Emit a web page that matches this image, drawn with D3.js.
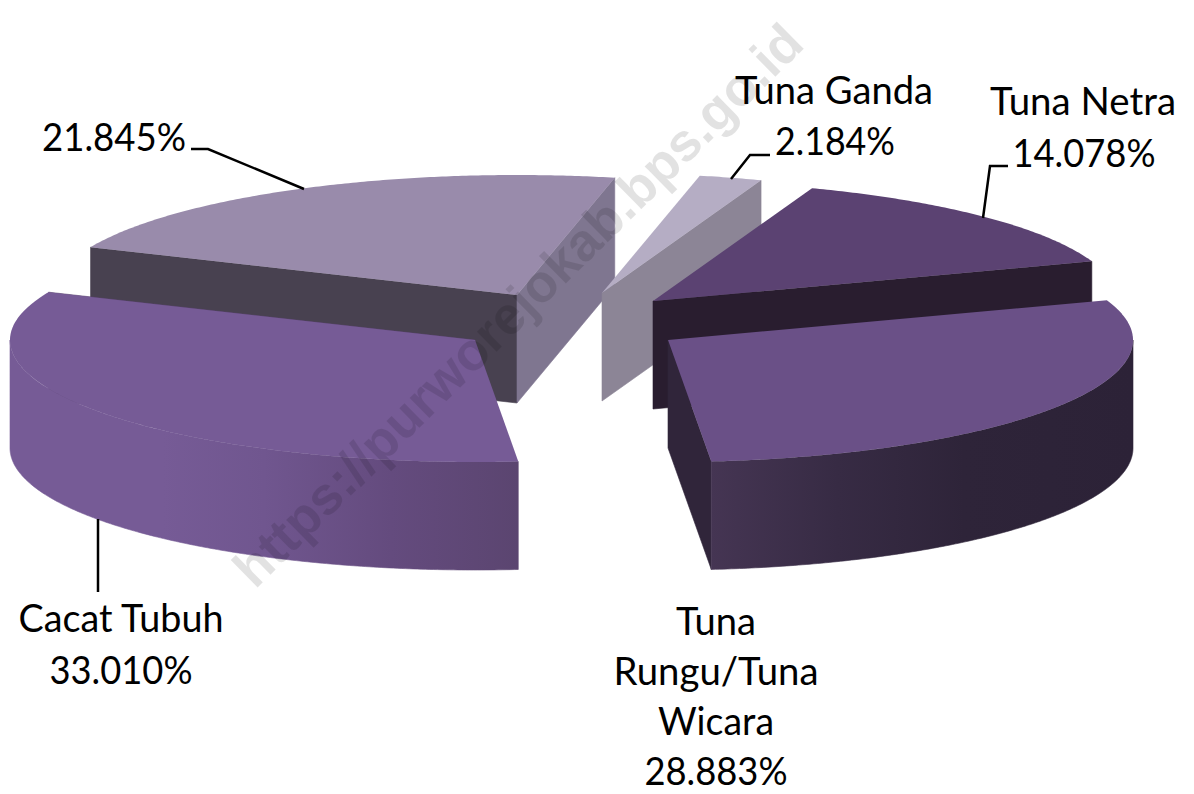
<!DOCTYPE html>
<html>
<head>
<meta charset="utf-8">
<script src="https://cdn.jsdelivr.net/npm/d3@7/dist/d3.min.js"></script>
<style>
html,body{margin:0;padding:0;background:#fff;}
svg{display:block;}
text{font-family:Lato,"Open Sans",sans-serif;fill:#000;}
</style>
</head>
<body>
<svg id="chart" width="1194" height="794"></svg>
<script>
// ---- data ----
const categories = ["Tuna Netra", "Tuna Rungu/Tuna Wicara", "Cacat Tubuh", "Lainnya", "Tuna Ganda"];
const values = [14.078, 28.883, 33.010, 21.845, 2.184];
const valueLabels = ["14.078%", "28.883%", "33.010%", "21.845%", "2.184%"];

// ---- layout ----
const W = 1194, H = 794;
const RX = 465, RY_FRONT = 122, RY_BACK = 120, DEPTH = 108;
const START_DEG = 20;
const apexX = [653, 668, 475, 517, 602];
const apexY = [301, 340, 340, 295, 293];
const topFill = ["#5b4272", "#6a5087", "#765b96", "#998bab", "#b5adc4"];
const wallFill = ["#291d2f", "#30253a", "#5b4570", "#7f7690", "#8c8596"];
const startWallFill = [null, null, null, "#484150", null];
const drawOrder = [3, 4, 0, 2, 1];
const rad = Math.PI / 180;

const svg = d3.select("#chart");
const defs = svg.append("defs");
function gradient(id, x1, x2, stops) {
  const g = defs.append("linearGradient").attr("id", id)
    .attr("gradientUnits", "userSpaceOnUse")
    .attr("x1", x1).attr("x2", x2).attr("y1", 0).attr("y2", 0);
  stops.forEach(s => g.append("stop").attr("offset", s[0]).attr("stop-color", s[1]));
}
gradient("wall2", 10, 518, [[0, "#765b96"], [0.3, "#765b96"], [0.5, "#70568f"], [0.75, "#644b7e"], [1, "#5b4570"]]);
gradient("wall1", 711, 1133, [[0, "#453553"], [0.3, "#372b44"], [0.6, "#2e2439"], [1, "#2c2237"]]);
const outerFill = {1: "url(#wall1)", 2: "url(#wall2)"};

const pie = d3.pie().sort(null).value(d => d)
  .startAngle(START_DEG * rad).endAngle((START_DEG + 360) * rad);
const arcs = pie(values);

const xScale = d3.scaleLinear().domain([-1, 1]).range([-RX, RX]);
const yScale = d3.scaleLinear().domain([-1, 0, 1]).range([RY_FRONT, 0, -RY_BACK]);
const px = (i, a) => apexX[i] + xScale(Math.sin(a));
const py = (i, a, z) => apexY[i] + yScale(Math.cos(a)) + (z || 0);
const line = d3.line();
const closed = pts => line(pts) + "Z";
const sweep = (a0, a1) => {
  const n = Math.max(2, Math.ceil((a1 - a0) / (0.5 * rad)));
  return d3.range(n + 1).map(k => a0 + (a1 - a0) * k / n);
};
function wall(g, fill, d) {
  g.append("path").attr("fill", fill).attr("stroke", fill).attr("stroke-width", 0.6).attr("d", d);
}

const pieG = svg.append("g");
drawOrder.forEach(i => {
  const d = arcs[i];
  const a0 = d.startAngle, a1 = d.endAngle;
  const ax = apexX[i], ay = apexY[i];
  const g = pieG.append("g").attr("class", "slice");
  // radial walls
  if (startWallFill[i]) {
    wall(g, startWallFill[i], closed([
      [ax, ay], [px(i, a0), py(i, a0)], [px(i, a0), py(i, a0, DEPTH)], [ax, ay + DEPTH]]));
  }
  wall(g, wallFill[i], closed([
    [ax, ay], [px(i, a1), py(i, a1)], [px(i, a1), py(i, a1, DEPTH)], [ax, ay + DEPTH]]));
  // outer wall: only the front part is visible
  const f0 = Math.max(a0, 90 * rad), f1 = Math.min(a1, 270 * rad);
  if (f1 > f0) {
    const s = sweep(f0, f1);
    wall(g, outerFill[i] || wallFill[i], closed(
      s.map(a => [px(i, a), py(i, a)]).concat(s.slice().reverse().map(a => [px(i, a), py(i, a, DEPTH)]))));
  }
  // top face
  g.append("path").attr("fill", topFill[i]).attr("d", closed(
    [[ax, ay]].concat(sweep(a0, a1).map(a => [px(i, a), py(i, a)]))));
});

// leader lines
const leaders = [
  [[191, 149], [208, 149], [304, 189]],
  [[770, 155], [750, 155], [731, 179]],
  [[1008, 166], [990, 166], [983, 218]],
  [[98, 519], [98, 592]]
];
svg.append("g").selectAll("path").data(leaders).join("path")
  .attr("d", d => line(d)).attr("fill", "none").attr("stroke", "#000").attr("stroke-width", 2.5);

// labels
const FS = 38;
const labels = [
  {x: 114, y: 151, w: 144, t: valueLabels[3]},
  {x: 834, y: 104, w: 198, t: categories[4]},
  {x: 835, y: 155, w: 120, t: valueLabels[4]},
  {x: 1083, y: 115, w: 186, t: categories[0]},
  {x: 1084, y: 167, w: 143, t: valueLabels[0]},
  {x: 121, y: 632, w: 205, t: categories[2]},
  {x: 121, y: 684, w: 143, t: valueLabels[2]},
  {x: 716, y: 635, w: 80, t: "Tuna"},
  {x: 716, y: 685, w: 205, t: "Rungu/Tuna"},
  {x: 716, y: 735, w: 116, t: "Wicara"},
  {x: 716, y: 785, w: 143, t: valueLabels[1]}
];
svg.append("g").selectAll("text").data(labels).join("text")
  .attr("x", d => d.x).attr("y", d => d.y).attr("text-anchor", "middle")
  .attr("textLength", d => d.w).attr("lengthAdjust", "spacingAndGlyphs")
  .attr("font-size", FS).text(d => d.t);

// watermark
svg.append("text")
  .attr("transform", "translate(255,590) rotate(-44.6)")
  .attr("font-size", 53).attr("font-weight", 700)
  .style("font-family", "'Liberation Sans',Arial,sans-serif")
  .style("fill", "rgba(0,0,0,0.115)")
  .text("https://purworejokab.bps.go.id");
</script>
</body>
</html>
